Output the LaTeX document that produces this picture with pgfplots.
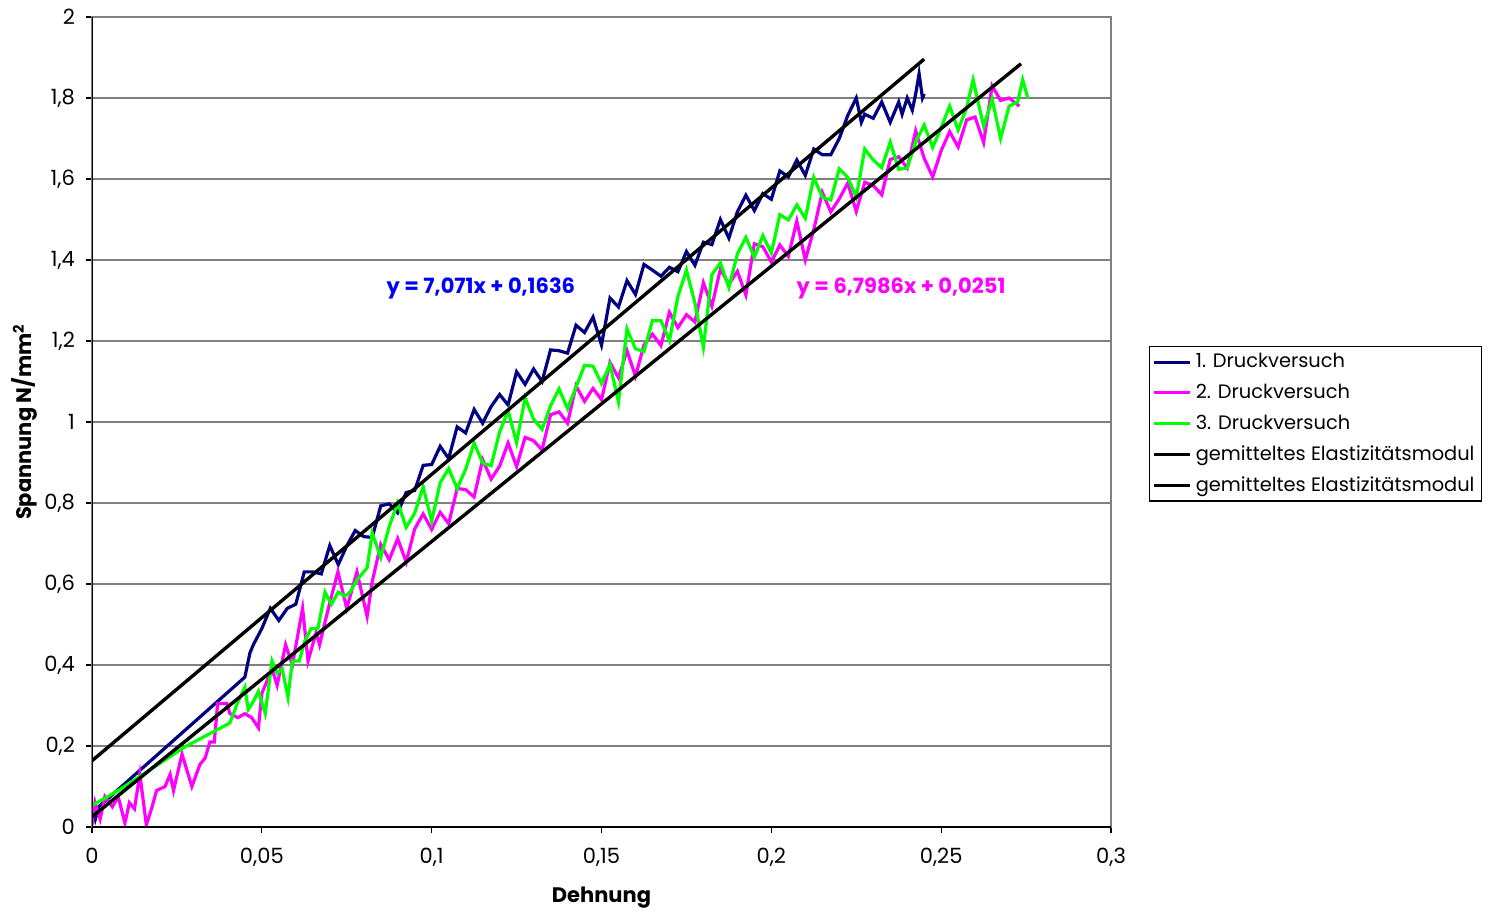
\documentclass[border=0pt]{standalone}
\usepackage{fontspec}
\setmainfont{Poppins}
\usepackage{pgfplots}
\pgfplotsset{compat=1.18}
\definecolor{navyc}{RGB}{0,0,128}
\definecolor{magc}{RGB}{255,0,255}
\definecolor{greenc}{RGB}{0,255,0}
\definecolor{eqblue}{RGB}{0,0,255}
\definecolor{gridc}{RGB}{128,128,128}
\begin{document}
\begin{tikzpicture}
\useasboundingbox (0,0) rectangle (745.5pt,456pt);
\begin{axis}[
  at={(46pt,42.5pt)}, anchor=south west,
  scale only axis, width=509.5pt, height=405pt,
  xmin=0, xmax=0.3, ymin=0, ymax=2,
  xtick={0,0.05,0.1,0.15,0.2,0.25,0.3},
  ytick={0,0.2,0.4,0.6,0.8,1,1.2,1.4,1.6,1.8,2},
  scaled x ticks=false, scaled y ticks=false,
  xticklabel style={/pgf/number format/fixed, /pgf/number format/precision=2, /pgf/number format/use comma, /pgf/number format/assume math mode=true, yshift=-4pt},
  yticklabel style={/pgf/number format/fixed, /pgf/number format/precision=1, /pgf/number format/use comma, /pgf/number format/assume math mode=true, xshift=-2pt},
  tick label style={font=\fontsize{10.5}{12}\selectfont},
  tick align=outside, xtick pos=bottom, ytick pos=left,
  major tick length=3pt,
  tick style={black, line width=0.6pt},
  axis line style={gridc, line width=0.8pt},
  ymajorgrids, grid style={gridc, line width=0.8pt},
  xlabel={\bfseries Dehnung},
  xlabel style={font=\fontsize{10.5}{12}\selectfont, at={(axis description cs:0.5,-0.087)}, anchor=center},
  ylabel={\bfseries Spannung N/mm\textsuperscript{2}},
  ylabel style={font=\fontsize{10.5}{12}\selectfont, at={(axis description cs:-0.066,0.5)}, anchor=center, rotate=0},
  legend style={at={(axis description cs:1.0373,0.5938)}, anchor=north west, draw=black, line width=0.6pt, font=\fontsize{9.7}{12}\selectfont, inner sep=1.5pt, row sep=2.6pt, legend cell align=left},
  legend cell align=left,
  legend image code/.code={\draw[#1, line width=1.6pt] (0pt,0pt) -- (18pt,0pt);},
  clip=true,
]
\addplot[navyc, line width=1.6pt] coordinates {
(0,0.06) (0.001,0.02) (0.002,0.05) (0.045,0.37) (0.0465,0.43) (0.0475,0.45) (0.05,0.49) (0.0525,0.54) (0.055,0.51) (0.0575,0.54) (0.06,0.55) (0.0625,0.63) (0.065,0.63) (0.0675,0.625) (0.07,0.695) (0.0725,0.648) (0.075,0.694) (0.0775,0.732) (0.08,0.717) (0.0825,0.715) (0.085,0.793) (0.0875,0.798) (0.09,0.776) (0.0925,0.826) (0.095,0.831) (0.0975,0.893) (0.1,0.895) (0.1025,0.94) (0.105,0.91) (0.1075,0.988) (0.11,0.973) (0.1125,1.031) (0.115,0.997) (0.1175,1.038) (0.12,1.068) (0.1225,1.042) (0.125,1.124) (0.1275,1.093) (0.13,1.131) (0.1325,1.10) (0.135,1.178) (0.1375,1.176) (0.14,1.17) (0.1425,1.239) (0.145,1.221) (0.1475,1.259) (0.15,1.19) (0.1525,1.306) (0.155,1.284) (0.1575,1.349) (0.16,1.315) (0.1625,1.389) (0.165,1.375) (0.1675,1.36) (0.17,1.382) (0.1725,1.371) (0.175,1.421) (0.1775,1.387) (0.18,1.444) (0.1825,1.438) (0.185,1.50) (0.1875,1.454) (0.19,1.519) (0.1925,1.56) (0.195,1.522) (0.1975,1.564) (0.2,1.55) (0.2025,1.62) (0.205,1.605) (0.2075,1.647) (0.21,1.609) (0.2125,1.674) (0.215,1.66) (0.2175,1.66) (0.22,1.70) (0.2225,1.757) (0.225,1.80) (0.2265,1.74) (0.2275,1.76) (0.23,1.75) (0.2325,1.79) (0.235,1.74) (0.2375,1.79) (0.2385,1.76) (0.24,1.80) (0.2415,1.77) (0.2425,1.81) (0.2435,1.86) (0.2445,1.80) (0.245,1.81)
};
\addlegendentry{1. Druckversuch}
\addplot[magc, line width=1.6pt] coordinates {
(0,0.005) (0.0009,0.06) (0.0024,0.02) (0.0038,0.075) (0.006,0.05) (0.0077,0.075) (0.0097,0.01) (0.011,0.06) (0.0125,0.045) (0.0141,0.13) (0.016,0.005) (0.0177,0.05) (0.019,0.09) (0.0215,0.10) (0.023,0.13) (0.024,0.09) (0.0265,0.18) (0.0294,0.10) (0.0318,0.155) (0.0333,0.17) (0.0347,0.21) (0.036,0.21) (0.037,0.305) (0.0397,0.305) (0.0406,0.28) (0.043,0.27) (0.045,0.28) (0.047,0.27) (0.049,0.245) (0.050,0.33) (0.053,0.39) (0.0545,0.35) (0.057,0.45) (0.059,0.40) (0.0605,0.47) (0.062,0.54) (0.0636,0.41) (0.066,0.48) (0.067,0.45) (0.069,0.52) (0.0705,0.57) (0.0724,0.63) (0.075,0.54) (0.078,0.63) (0.081,0.52) (0.0825,0.606) (0.085,0.698) (0.0875,0.66) (0.09,0.712) (0.0925,0.654) (0.095,0.736) (0.0975,0.773) (0.1,0.735) (0.1025,0.777) (0.105,0.749) (0.1075,0.836) (0.11,0.833) (0.1125,0.815) (0.115,0.907) (0.1175,0.859) (0.12,0.891) (0.1225,0.948) (0.125,0.89) (0.1275,0.962) (0.13,0.954) (0.1325,0.931) (0.135,1.018) (0.1375,1.025) (0.14,0.997) (0.1425,1.089) (0.145,1.051) (0.1475,1.083) (0.15,1.055) (0.1525,1.147) (0.155,1.109) (0.1575,1.176) (0.16,1.113) (0.1625,1.19) (0.165,1.217) (0.1675,1.189) (0.17,1.271) (0.1725,1.233) (0.175,1.265) (0.1775,1.247) (0.18,1.344) (0.1825,1.286) (0.185,1.378) (0.1875,1.34) (0.19,1.372) (0.1925,1.314) (0.195,1.44) (0.1975,1.433) (0.2,1.395) (0.2025,1.437) (0.205,1.409) (0.2075,1.496) (0.21,1.40) (0.2125,1.475) (0.215,1.567) (0.2175,1.519) (0.22,1.551) (0.2225,1.59) (0.225,1.52) (0.2275,1.592) (0.23,1.584) (0.2325,1.561) (0.235,1.648) (0.2375,1.655) (0.24,1.627) (0.2425,1.719) (0.245,1.651) (0.2475,1.605) (0.25,1.67) (0.2525,1.717) (0.255,1.679) (0.2575,1.746) (0.26,1.753) (0.2625,1.69) (0.265,1.83) (0.2675,1.794) (0.27,1.80) (0.273,1.78)
};
\addlegendentry{2. Druckversuch}
\addplot[greenc, line width=1.6pt] coordinates {
(0,0.053) (0.0077,0.09) (0.0274,0.198) (0.0406,0.257) (0.043,0.31) (0.045,0.345) (0.046,0.29) (0.0475,0.31) (0.049,0.335) (0.051,0.28) (0.053,0.41) (0.0545,0.38) (0.056,0.39) (0.0577,0.32) (0.059,0.41) (0.061,0.41) (0.0627,0.46) (0.0645,0.49) (0.0665,0.49) (0.0686,0.58) (0.0705,0.55) (0.0725,0.58) (0.0745,0.57) (0.076,0.58) (0.078,0.61) (0.081,0.64) (0.0825,0.726) (0.085,0.665) (0.0875,0.742) (0.09,0.801) (0.0925,0.74) (0.095,0.775) (0.0975,0.84) (0.1,0.755) (0.1025,0.85) (0.105,0.885) (0.1075,0.836) (0.11,0.883) (0.1125,0.948) (0.115,0.899) (0.1175,0.892) (0.12,0.975) (0.1225,1.028) (0.125,0.949) (0.1275,1.06) (0.13,1.007) (0.1325,0.982) (0.135,1.04) (0.1375,1.082) (0.14,1.033) (0.1425,1.086) (0.145,1.14) (0.1475,1.138) (0.15,1.095) (0.1525,1.142) (0.155,1.05) (0.1575,1.23) (0.16,1.181) (0.1625,1.174) (0.165,1.251) (0.1675,1.25) (0.17,1.201) (0.1725,1.31) (0.175,1.375) (0.1775,1.294) (0.18,1.185) (0.1825,1.364) (0.185,1.393) (0.1875,1.332) (0.19,1.415) (0.1925,1.456) (0.195,1.407) (0.1975,1.46) (0.2,1.417) (0.2025,1.512) (0.205,1.499) (0.2075,1.536) (0.21,1.503) (0.2125,1.604) (0.215,1.555) (0.2175,1.548) (0.22,1.625) (0.2225,1.604) (0.225,1.555) (0.2275,1.674) (0.23,1.647) (0.2325,1.628) (0.235,1.691) (0.2375,1.624) (0.24,1.627) (0.2425,1.692) (0.245,1.733) (0.2475,1.678) (0.25,1.727) (0.2525,1.78) (0.255,1.721) (0.2575,1.776) (0.2594,1.845) (0.2625,1.73) (0.265,1.797) (0.2675,1.70) (0.27,1.78) (0.2725,1.79) (0.274,1.845) (0.2755,1.80)
};
\addlegendentry{3. Druckversuch}
\addplot[black, line width=1.7pt] coordinates {(0,0.1636) (0.245,1.8960)};
\addlegendentry{gemitteltes Elastizitätsmodul}
\addplot[black, line width=1.7pt] coordinates {(0,0.0251) (0.2735,1.8845)};
\addlegendentry{gemitteltes Elastizitätsmodul}
\draw[black, line width=0.8pt] (axis cs:0,0) -- (axis cs:0.3,0);
\draw[black, line width=0.8pt] (axis cs:0,0) -- (axis cs:0,2);
\node[text=eqblue, font=\fontsize{10.5}{12}\selectfont\bfseries] at (axis cs:0.1145,1.331) {y = 7,071x + 0,1636};
\node[text=magc, font=\fontsize{10.5}{12}\selectfont\bfseries] at (axis cs:0.2382,1.331) {y = 6,7986x + 0,0251};
\end{axis}
\end{tikzpicture}
\end{document}
